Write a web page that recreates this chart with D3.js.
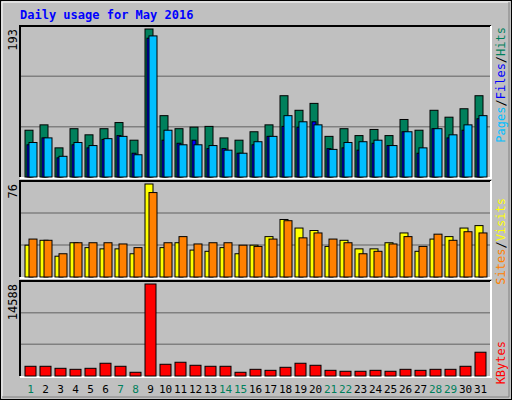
<!DOCTYPE html>
<html><head><meta charset="utf-8">
<script src="https://cdn.jsdelivr.net/npm/d3@7"></script>
<style>body{margin:0;background:#fff}</style></head>
<body><svg id="c" width="512" height="400"></svg>
<script>
const days = d3.range(1,32);
const weekend = [1,7,8,14,15,21,22,28,29];
const hits  = [61,68,38,63,55,63,71,48,193,80,63,65,66,51,48,59,68,106,87,96,53,63,54,62,54,75,61,87,78,89,106];
const files = [45,51,27,45,41,50,53,29,184,61,42,42,41,35,31,46,53,80,72,68,36,45,46,48,41,59,38,63,55,68,80];
const pages = [42,51,25,42,38,49,54,31,181,48,44,48,37,37,31,42,53,66,65,72,37,38,35,44,41,59,31,63,51,61,76];
const visits= [26,30,17,28,24,23,23,19,76,24,28,22,21,24,19,26,33,47,40,38,25,30,23,23,28,36,21,31,33,40,42];
const sites = [31,30,19,28,28,28,27,24,69,28,33,27,28,28,26,25,31,46,32,36,31,28,19,21,27,33,25,35,30,37,36];
const kbytes= [1540,1540,1220,1060,1220,2020,1540,590,14588,1860,2180,1700,1540,1540,590,1060,900,1380,2020,1700,900,750,750,900,750,1060,900,1060,1060,1540,3770];

const svg = d3.select("#c");
const font = "'DejaVu Sans Mono', monospace";
svg.append("rect").attr("x",0.5).attr("y",0.5).attr("width",511).attr("height",399).attr("fill","#c0c0c0").attr("stroke","#000");
svg.append("path").attr("d","M2,398V2H510").attr("stroke","#fff").attr("fill","none");
svg.append("path").attr("d","M2,397H509V2").attr("stroke","#808080").attr("fill","none");
svg.append("text").attr("x",20).attr("y",19).attr("fill","#0000ff").attr("font-family",font).attr("font-weight","bold").attr("font-size",12).text("Daily usage for May 2016");

const x = d3.scaleBand().domain(days).range([21,486]).paddingInner(0);
const L=20,R=491;
function panel(top,bottom,max,label){
  svg.append("rect").attr("x",L).attr("y",top).attr("width",R-L).attr("height",bottom-top).attr("fill","#c0c0c0");
  const h=bottom-top;
  [1,2].forEach(i=>svg.append("line").attr("x1",L).attr("x2",R).attr("y1",bottom-h*i/3).attr("y2",bottom-h*i/3).attr("stroke","#808080").attr("stroke-width",1.5));
  svg.append("path").attr("d",`M${L},${bottom}V${top}H${R}`).attr("stroke","#000").attr("stroke-width",2).attr("fill","none");
  svg.append("path").attr("d",`M${L},${bottom+1}H${R}V${top}`).attr("stroke","#fff").attr("stroke-width",2).attr("fill","none");
  svg.append("text").attr("transform",`translate(17,${top+3}) rotate(-90)`).attr("text-anchor","end").attr("font-family",font).attr("font-size",12).text(label);
  return d3.scaleLinear().domain([0,max]).range([bottom,top+3]);
}
function bars(y,data,dx,w,color){
  svg.append("g").selectAll("rect").data(data).join("rect")
   .attr("x",(d,i)=>x(days[i])+dx).attr("width",w)
   .attr("y",d=>y(d)).attr("height",d=>y(0)-y(d))
   .attr("fill",color).attr("stroke","#000").attr("stroke-width",1);
}
const y1=panel(26,177,d3.max(hits),"193");
bars(y1,hits,4,8,"#00805c"); bars(y1,pages,6,4,"#0000ff"); bars(y1,files,8,8,"#00bfff");
const y2=panel(181,277,d3.max(visits),"76");
bars(y2,visits,4,8,"#ffff00"); bars(y2,sites,8,8,"#ff8000");
const y3=panel(281,376,d3.max(kbytes),"14588");
bars(y3,kbytes,4,11,"#ff0000");

svg.append("g").selectAll("text").data(days).join("text")
  .attr("x",d=>x(d)+x.bandwidth()/2+2).attr("y",393).attr("text-anchor","middle")
  .attr("font-family",font).attr("font-size",11)
  .attr("fill",d=>weekend.includes(d)?"#00805c":"#000").text(d=>d);

function vlabel(top,parts){
  const t=svg.append("text").attr("transform",`translate(505,${top}) rotate(-90)`).attr("text-anchor","end")
    .attr("font-family",font).attr("font-size",12);
  parts.forEach(([s,c])=>t.append("tspan").attr("fill",c).text(s));
}
vlabel(27,[["Pages","#00bfff"],["/","#000"],["Files","#0000ff"],["/","#000"],["Hits","#00805c"]]);
vlabel(198,[["Sites","#ff8000"],["/","#000"],["Visits","#ffff00"]]);
vlabel(341,[["KBytes","#ff0000"]]);
</script></body></html>
